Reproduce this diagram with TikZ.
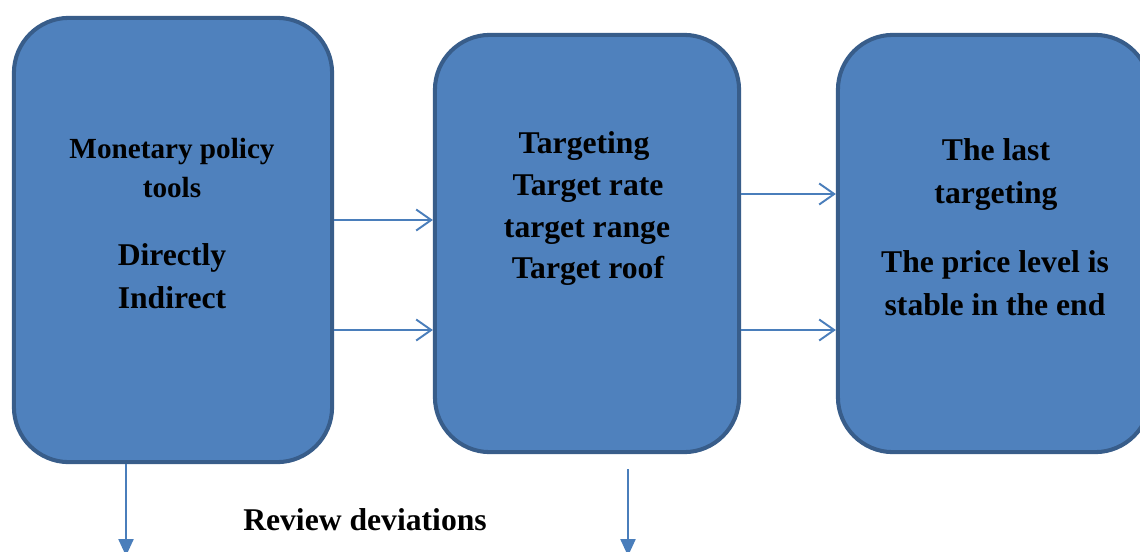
\documentclass[tikz,border=0pt]{standalone}
\usepackage{fontspec}
\setmainfont{Liberation Serif}
\usetikzlibrary{arrows.meta}
\definecolor{boxfill}{HTML}{4F81BD}
\definecolor{boxline}{HTML}{385D8A}
\definecolor{arrowc}{HTML}{4A7EBB}
\begin{document}
\begin{tikzpicture}[x=0.01cm,y=-0.01cm,
  blockbox/.style={draw=boxline, line width=1.15pt, fill=boxfill, rounded corners=0.55cm, inner sep=0pt},
  bigtxt/.style={font=\fontsize{9}{11}\selectfont\bfseries, anchor=base, inner sep=0pt},
  smalltxt/.style={font=\fontsize{8.3}{10}\selectfont\bfseries, anchor=base, inner sep=0pt},
  flow/.style={draw=arrowc, line width=0.55pt, -{Straight Barb[length=1.5mm,width=2.1mm]}},
  downflow/.style={draw=arrowc, line width=0.65pt, -{Triangle[length=1.7mm,width=1.5mm]}}]
\useasboundingbox (0,0) rectangle (1140,551);
\clip (0,0) rectangle (1140,551);
\fill[white] (0,0) rectangle (1140,551);
% boxes
\node[blockbox, minimum width=3.18cm, minimum height=4.44cm] (b1) at (173,240) {};
\node[blockbox, minimum width=3.04cm, minimum height=4.17cm] (b2) at (587,243.5) {};
\node[blockbox, minimum width=3.12cm, minimum height=4.17cm] (b3) at (994,243.5) {};
% texts box 1
\node[smalltxt] (t1a) at (172,158) {Monetary policy};
\node[smalltxt] (t1b) at (172,197) {tools};
\node[bigtxt] (t1c) at (172,265) {Directly};
\node[bigtxt] (t1d) at (172,308) {Indirect};
% texts box 2
\node[bigtxt] (t2a) at (584,153) {Targeting};
\node[bigtxt] (t2b) at (588,195) {Target rate};
\node[bigtxt] (t2c) at (587,237) {target range};
\node[bigtxt] (t2d) at (588,278) {Target roof};
% texts box 3
\node[bigtxt] (t3a) at (996,160) {The last};
\node[bigtxt] (t3b) at (996,203) {targeting};
\node[bigtxt] (t3c) at (995,272) {The price level is};
\node[bigtxt] (t3d) at (995,315) {stable in the end};
% bottom label
\node[bigtxt] (rev) at (365,530) {Review deviations};
% horizontal connectors
\coordinate (r1) at (0,220);
\coordinate (r2) at (0,330);
\coordinate (r3) at (0,194);
\coordinate (r4) at (0,330);
\draw[flow] (b1.east |- r1) -- (b2.west |- r1);
\draw[flow] (b1.east |- r2) -- (b2.west |- r2);
\draw[flow] (b2.east |- r3) -- (b3.west |- r3);
\draw[flow] (b2.east |- r4) -- (b3.west |- r4);
% downward connectors
\coordinate (d1) at (126,556);
\coordinate (d2) at (628,556);
\draw[downflow] (b1.south -| d1) -- (d1);
\draw[downflow, shorten <=0.15cm] (b2.south -| d2) -- (d2);
\end{tikzpicture}
\end{document}
